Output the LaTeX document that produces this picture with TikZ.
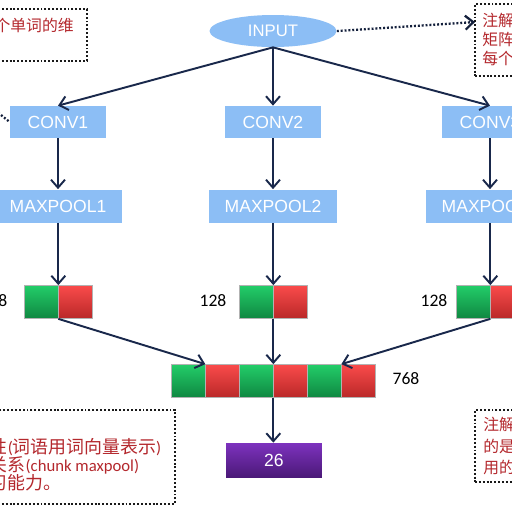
\documentclass[tikz,border=0pt]{standalone}
\usepackage{fontspec}
\setmainfont{Liberation Sans}
\newfontfamily\cjk{Noto Sans CJK SC}
\newfontfamily\calfont{Carlito}
\usetikzlibrary{arrows.meta, shapes.geometric, positioning}
\definecolor{boxblue}{RGB}{140,190,245}
\definecolor{navy}{RGB}{25,40,75}
\definecolor{notered}{RGB}{180,40,45}
\newcommand\latinpart[1]{{\calfont\fontsize{9.5}{10.3}\selectfont #1}}
\tikzset{> = {Straight Barb[length = 1.6mm, width = 2.8mm]}}
\tikzset{
	layer/.style = {fill = boxblue, text = white, minimum width = 1.92cm, minimum height = 0.64cm, inner sep = 0pt, font = \fontsize{10}{12}\selectfont},
	pool/.style = {layer, minimum width = 2.56cm, minimum height = 0.66cm},
	cell/.style = {draw = black!30, line width = 0.4pt, minimum width = 0.68cm, minimum height = 0.66cm, inner sep = 0pt},
	gcell/.style = {cell, top color = {rgb,255:red,35;green,205;blue,105}, bottom color = {rgb,255:red,15;green,135;blue,65}},
	rcell/.style = {cell, top color = {rgb,255:red,250;green,75;blue,75}, bottom color = {rgb,255:red,185;green,40;blue,40}},
	dim/.style = {font = \calfont\fontsize{10}{12}\selectfont, inner sep = 0pt},
	conn/.style = {->, draw = navy, line width = 1.1pt},
	note/.style = {draw = black!90, line width = 1.3pt, dash pattern = on 1.1pt off 1.1pt},
	notetext/.style = {text = notered, font = \cjk\fontsize{9}{#1}\selectfont, align = left, inner sep = 0pt, anchor = west}
}

\begin{document}
\begin{tikzpicture}[x = 0.02cm, y = -0.02cm]
	\useasboundingbox (0, 0) rectangle (512, 512);
	\fill [white] (0, 0) rectangle (512, 512);
	\clip (0, 0) rectangle (512, 512);

	\node [ellipse, layer, minimum width = 2.54cm, minimum height = 0.64cm, font = \fontsize{9.5}{11}\selectfont] (input) at (273, 31) {INPUT};

	\node [layer] (conv1) at (58, 122) {CONV1};
	\node [layer] (conv2) at (273, 122) {CONV2};
	\node [layer] (conv3) at (490, 122) {CONV3};
	\node [pool] (pool1) at (58, 206) {MAXPOOL1};
	\node [pool] (pool2) at (273, 206) {MAXPOOL2};
	\node [pool] (pool3) at (490, 206) {MAXPOOL3};

	\node [gcell] (g1) at (41, 302) {};
	\node [rcell, right = 0pt of g1] (r1) {};
	\node [gcell] (g2) at (256, 302) {};
	\node [rcell, right = 0pt of g2] (r2) {};
	\node [gcell] (g3) at (473, 302) {};
	\node [rcell, right = 0pt of g3] (r3) {};
	\node [dim] (d1) at (-6, 301) {128};
	\node [dim] (d2) at (213, 301) {128};
	\node [dim] (d3) at (434, 301) {128};

	\foreach \i/\s in {1/gcell, 2/rcell, 3/gcell, 4/rcell, 5/gcell, 6/rcell}
		\node [\s] (c\i) at ({154 + 34*\i}, 381) {};
	\node [dim] (d4) at (406, 379) {768};

	\node [layer, minimum height = 0.68cm, top color = {rgb,255:red,125;green,50;blue,190}, bottom color = {rgb,255:red,75;green,25;blue,120}] (out) at (274, 460) {26};

	\draw [conn] (input.south) -- (conv1.north);
	\draw [conn] (input.south) -- (conv2.north);
	\draw [conn] (input.south) -- (conv3.north);
	\foreach \k in {1, 2, 3} {
		\draw [conn] (conv\k) -- (pool\k);
		\draw [conn] (pool\k.south -| g\k.north east) -- (g\k.north east);
	}
	\draw [conn] (g1.south east) -- (c1.north east);
	\draw [conn] (g2.south east) -- (c3.north east);
	\draw [conn] (g3.south east) -- (c5.north east);
	\draw [conn] (c3.south east) -- (c3.south east |- out.north);

	\node [note, minimum width = 2.94cm, minimum height = 1.04cm] (tlnote) at (13.5, 35) {};
	\node [notetext = 11pt, anchor = east] (tltext) at (74, 25) {个单词的维};
	\node [note, minimum width = 1.9cm, minimum height = 1.44cm] (trnote) at (522.5, 40) {};
	\node [notetext = 10.8pt] (trtext) at (482, 39) {注解\\矩阵\\每个};
	\node [note, minimum width = 4.7cm, minimum height = 1.88cm] (blnote) at (57.5, 457) {};
	\node [notetext = 10.3pt, font = \cjk\fontsize{10.2}{10.3}\selectfont] (bltext) at (-10.5, 465) {性\latinpart{(}词语用词向量表示\latinpart{)}\\关系\latinpart{(chunk maxpool)}\\习能力。};
	\node [note, minimum width = 1.9cm, minimum height = 1.44cm] (brnote) at (522.5, 446) {};
	\node [notetext = 12pt] (brtext) at (483, 446) {注解\\的是\\用的};

	\coordinate (trin) at (475, 22);
	\coordinate (lout) at (-20, 98);
	\draw [note, ->, draw = navy!80!black] (input.east) -- (trin);
	\draw [note, draw = navy!80!black] (lout) -- (conv1.west);
\end{tikzpicture}
\end{document}
